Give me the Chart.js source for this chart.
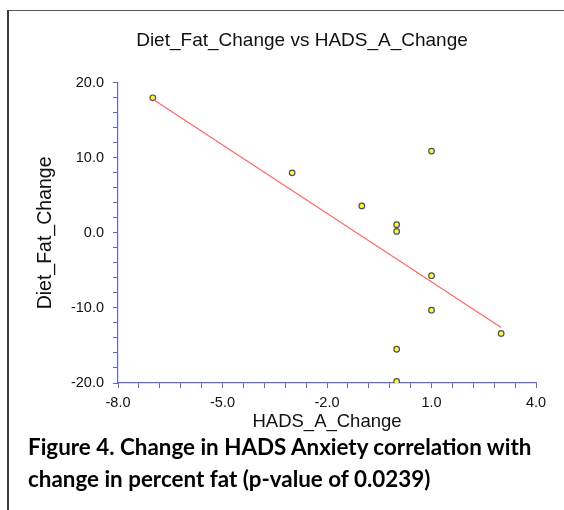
<!DOCTYPE html>
<html>
<head>
<meta charset="utf-8">
<script src="https://cdn.jsdelivr.net/npm/chart.js@4"></script>
<style>
	html, body { margin: 0; padding: 0; background: #fff; }
	body { width: 564px; height: 510px; position: relative; overflow: hidden; }
	#frame {
		position: absolute; left: 7px; top: 10px; width: 700px; height: 700px;
		border-left: 2px solid #3a3a3a; border-top: 1px solid #555;
	}
	#wrap { position: absolute; left: 0; top: 0; width: 564px; height: 440px; }
	#caption {
		position: absolute; left: 28px; top: 431px; margin: 0;
		font-family: Lato, "Open Sans", sans-serif; font-weight: 700;
		font-size: 22.4px; line-height: 32px; color: #000; white-space: nowrap;
	}
</style>
</head>
<body>
<div id="frame"></div>
<div id="wrap"><canvas id="chart" width="564" height="440"></canvas></div>
<p id="caption">Figure 4. Change in HADS Anxiety correlation with<br>change in percent fat (p-value of 0.0239)</p>
<script>
// points
const hadsChange = [-7, -3, -1, 0, 0, 1, 1, 1, 3, 0, 0];
const fatChange = [18.0, 8.0, 3.6, 1.1, 0.2, 10.9, -5.7, -10.3, -13.4, -15.5, -19.8];

// fitted line, ends
const fitX = [-7, 3];
const fitY = [17.8, -12.6];

const xTickLabels = [-8, -5, -2, 1, 4];
const yTickLabels = [-20, -10, 0, 10, 20];

const axisColor = "#6464d2";
const labelFont = { family: "'Liberation Sans', Arial, sans-serif", size: 14.5 };
const titleFont = { family: "'Liberation Sans', Arial, sans-serif", size: 18.5 };

const isLabel = (list, v) => list.some((t) => Math.abs(t - v) < 1e-6);

new Chart(document.getElementById("chart"), {
	type: "scatter",
	data: {
		datasets: [
			{
				label: "Fit",
				type: "line",
				data: fitX.map((x, i) => ({ x, y: fitY[i] })),
				borderColor: "#ff6a6a",
				borderWidth: 1.3,
				pointRadius: 0,
				fill: false,
			},
			{
				label: "Diet_Fat_Change",
				data: hadsChange.map((x, i) => ({ x, y: fatChange[i] })),
				backgroundColor: "#ffff1a",
				borderColor: "#4a4a78",
				borderWidth: 1.2,
				pointRadius: 2.8,
			},
		],
	},
	options: {
		responsive: false,
		animation: false,
		// left padding is wide so the title centres where the original does
		layout: { padding: { left: 68, right: 28, top: 10, bottom: 5 } },
		plugins: {
			legend: { display: false },
			tooltip: { enabled: false },
			title: {
				display: true,
				text: "Diet_Fat_Change vs HADS_A_Change",
				color: "#111",
				font: { ...titleFont, size: 19, weight: "normal" },
				padding: { top: 19, bottom: 31 },
			},
		},
		scales: {
			x: {
				type: "linear",
				min: -8,
				max: 4,
				afterFit: (s) => { s.height = 52; },
				border: { color: axisColor, width: 1.2 },
				grid: { drawOnChartArea: false, drawTicks: true, tickLength: 5, color: axisColor },
				ticks: {
					stepSize: 0.6,
					autoSkip: false,
					maxRotation: 0,
					padding: 6,
					color: "#111",
					font: labelFont,
					callback: (v) => (isLabel(xTickLabels, v) ? v.toFixed(1) : ""),
				},
				title: {
					display: true,
					text: "HADS_A_Change",
					color: "#111",
					font: titleFont,
					padding: { top: 0, bottom: 2 },
				},
			},
			y: {
				type: "linear",
				min: -20,
				max: 20,
				afterFit: (s) => { s.width = 50; },
				border: { color: axisColor, width: 1.2 },
				grid: { drawOnChartArea: false, drawTicks: true, tickLength: 5, color: axisColor },
				ticks: {
					stepSize: 2,
					autoSkip: false,
					padding: 9,
					color: "#111",
					font: labelFont,
					callback: (v) => (isLabel(yTickLabels, v) ? v.toFixed(1) : ""),
				},
				title: {
					display: true,
					text: "Diet_Fat_Change",
					color: "#111",
					font: { ...titleFont, size: 19.5 },
					padding: { top: -34, bottom: 0 },
				},
			},
		},
	},
});
</script>
</body>
</html>
